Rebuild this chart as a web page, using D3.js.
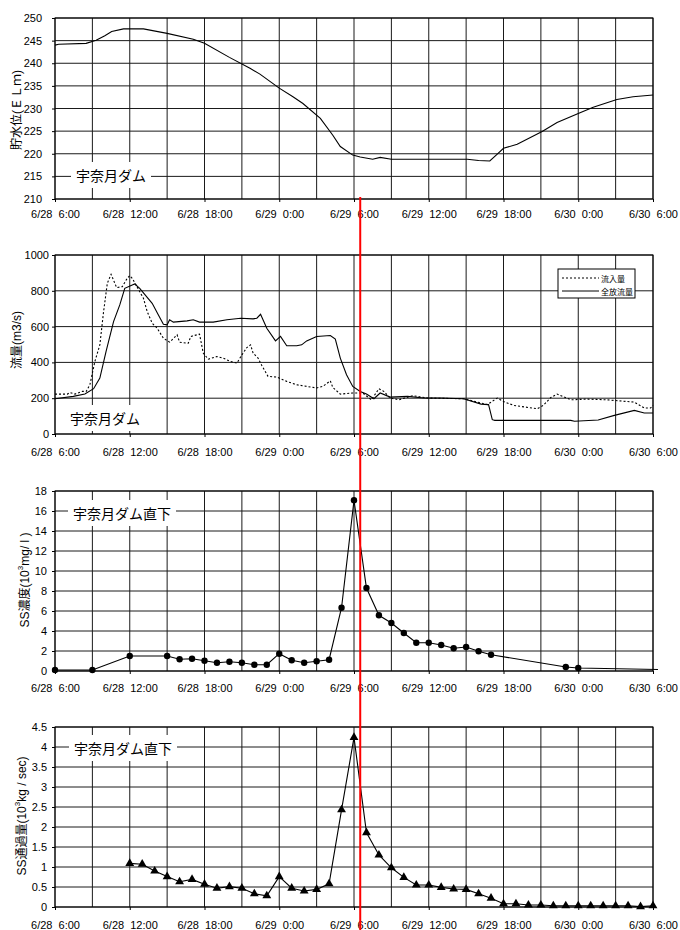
<!DOCTYPE html>
<html>
<head>
<meta charset="utf-8">
<script src="https://cdn.jsdelivr.net/npm/d3@7"></script>
<style>
  body { margin: 0; background: #fff; }
  svg { display: block; font-family: "Liberation Sans", Arial, "Noto Sans CJK JP", sans-serif; }
  .tick-x text { white-space: pre; }
</style>
</head>
<body>
<div id="chart"></div>
<script>
"use strict";

// 時間軸（6/28 6:00 からの経過時間）
var tickHours = [0, 6, 12, 18, 24, 30, 36, 42, 48];
var tickLabels = ["6/28  6:00", "6/28  12:00", "6/28  18:00", "6/29  0:00", "6/29  6:00",
                  "6/29  12:00", "6/29  18:00", "6/30  0:00", "6/30  6:00"];
var gridHours = [0, 3, 6, 9, 12, 15, 18, 21, 24, 27, 30, 33, 36, 39, 42, 45, 48];
var markHour = 24.5; // 赤線

// 貯水位
var levelHours = [0, 0.3, 2.5, 3.3, 4.0, 4.55, 5.5, 7.1, 9.0, 11.1, 12.0, 14.0, 15.65, 16.45, 18.0, 19.1,
                  19.9, 21.3, 22.3, 22.9, 23.9, 24.5, 25.5, 26.1, 27.0, 33.1, 34.0, 34.9, 35.5, 36.0,
                  37.1, 39.1, 40.3, 42.0, 43.2, 45.1, 46.4, 48.0];
var levelValues = [244.0, 244.2, 244.4, 245.1, 246.1, 247.0, 247.6, 247.6, 246.6, 245.3, 244.4, 241.3, 238.9, 237.6, 234.5, 232.6,
                   231.1, 227.8, 224.1, 221.6, 219.7, 219.3, 218.8, 219.2, 218.8, 218.8, 218.5, 218.4, 219.9, 221.2,
                   222.1, 224.9, 226.9, 228.9, 230.3, 232.0, 232.6, 233.0];

// 流量：全放流量
var outHours = [0, 1.47, 2.4, 3.1, 3.6, 4.1, 4.7, 5.2, 5.6, 6.2, 6.4, 6.8, 7.8, 8.3, 8.7, 9.0, 9.2, 9.5,
                10.6, 11.1, 11.6, 12.7, 13.8, 14.9, 15.9, 16.2, 16.5, 17.0, 17.7, 18.1, 18.6, 19.4, 19.8,
                20.2, 21.0, 22.1, 22.5, 22.9, 23.4, 23.9, 24.5, 25.0, 25.6, 26.1, 26.9, 28.3, 29.6, 30.9,
                32.8, 34.2, 34.8, 35.1, 35.3, 41.4, 41.7, 43.6, 44.9, 46.5, 47.3, 48.0];
var outValues = [197, 210, 223, 253, 312, 461, 628, 721, 814, 833, 838, 814, 730, 665, 613, 610, 638, 625,
                 632, 638, 625, 625, 638, 647, 643, 647, 669, 591, 520, 545, 493, 493, 498,
                 520, 545, 550, 530, 424, 331, 266, 238, 223, 197, 229, 206, 210, 201, 201,
                 197, 167, 164, 80, 76, 76, 71, 78, 104, 132, 117, 117];

// 流量：流入量
var inHours = [0, 1.0, 1.2, 1.6, 2.2, 2.5, 2.8, 3.2, 3.6, 3.9, 4.2, 4.5, 4.95, 5.4, 5.8, 6.0, 6.2, 6.5,
               7.1, 7.4, 7.8, 8.2, 8.7, 9.2, 9.8, 10.0, 10.7, 10.9, 11.6, 11.9, 12.3, 13.0, 13.5, 14.1,
               14.6, 15.0, 15.4, 15.7, 15.9, 16.3, 16.6, 17.1, 17.8, 18.6, 19.4, 20.2, 21.0, 21.5, 22.1,
               22.3, 22.9, 23.9, 24.7, 25.4, 26.0, 26.4, 26.9, 27.6, 28.7, 29.9, 32.8, 34.7, 35.5, 36.0,
               36.8, 38.3, 38.7, 39.2, 39.8, 40.3, 41.4, 42.7, 44.3, 46.5, 47.3, 47.8, 48.0];
var inValues = [223, 223, 232, 223, 238, 238, 275, 405, 498, 684, 842, 892, 818, 823, 870, 885, 870, 833,
                758, 684, 619, 591, 535, 513, 554, 513, 507, 545, 558, 452, 418, 433, 424, 405,
                396, 442, 483, 498, 452, 424, 383, 322, 318, 294, 275, 266, 257, 266, 297,
                260, 223, 229, 229, 191, 253, 238, 201, 191, 214, 201, 197, 164, 201, 182,
                160, 145, 141, 160, 204, 223, 191, 195, 191, 178, 145, 145, 160];

// SS濃度
var concHours = [0, 3, 6, 9, 10, 11, 12, 13, 14, 15, 16, 17, 18, 19, 20, 21, 22, 23, 24, 25, 26, 27, 28,
                 29, 30, 31, 32, 33, 34, 35, 41, 42, 48.4];
var concValues = [0.1, 0.1, 1.5, 1.5, 1.17, 1.23, 1.03, 0.83, 0.93, 0.83, 0.63, 0.63, 1.73, 1.07, 0.83, 0.97,
                  1.13, 6.33, 17.07, 8.3, 5.57, 4.8, 3.8, 2.83, 2.83, 2.6, 2.27, 2.4, 1.97, 1.63, 0.4, 0.3, 0.15];

// SS通過量
var fluxHours = [6, 7, 8, 9, 10, 11, 12, 13, 14, 15, 16, 17, 18, 19, 20, 21, 22, 23, 24, 25, 26, 27,
                 28, 29, 30, 31, 32, 33, 34, 35, 36, 37, 38, 39, 40, 41, 42, 43, 44, 45, 46, 47, 48];
var fluxValues = [1.09, 1.07, 0.9, 0.76, 0.63, 0.69, 0.57, 0.47, 0.51, 0.47, 0.33, 0.28, 0.76, 0.47, 0.4,
                  0.44, 0.58, 2.43, 4.24, 1.86, 1.3, 0.98, 0.74, 0.55, 0.55, 0.49, 0.45, 0.44, 0.33, 0.22,
                  0.08, 0.08, 0.05, 0.05, 0.03, 0.03, 0.03, 0.03, 0.03, 0.03, 0.03, 0.01, 0.03];

var width = 680, height = 930;
var left = 55, right = 653;

var svg = d3.select('#chart').append('svg')
            .attr('width', width)
            .attr('height', height);

svg.append('rect').attr('width', width).attr('height', height).attr('fill', '#fff');

var x = d3.scaleLinear().domain([0, 48]).range([left, right]);

function zip(hs, vs) {
  return hs.map(function(h, i) { return { h: h, v: vs[i] }; });
}

// パネル（枠・グリッド・軸）
function drawPanel(p) {
  var y = d3.scaleLinear().domain(p.domain).range([p.bottom, p.top]);
  var g = svg.append('g');

  g.append('g').selectAll('line')
    .data(p.ticks)
  .enter().append('line')
    .attr('x1', left).attr('x2', right)
    .attr('y1', function(d) { return y(d); })
    .attr('y2', function(d) { return y(d); })
    .attr('stroke', '#1a1a1a');

  g.append('g').selectAll('line')
    .data(gridHours)
  .enter().append('line')
    .attr('x1', function(d) { return x(d); })
    .attr('x2', function(d) { return x(d); })
    .attr('y1', p.top).attr('y2', p.bottom)
    .attr('stroke', '#1a1a1a');

  g.append('rect')
    .attr('x', left).attr('y', p.top)
    .attr('width', right - left).attr('height', p.bottom - p.top)
    .attr('fill', 'none').attr('stroke', '#000');

  var yAxis = d3.axisLeft(y)
                .tickValues(p.ticks)
                .tickSizeInner(3)
                .tickSizeOuter(0)
                .tickPadding(p.yPad)
                .tickFormat(function(d) { return String(d); });
  var gy = g.append('g').attr('transform', 'translate(' + left + ',0)').call(yAxis);
  gy.select('.domain').remove();
  gy.selectAll('text').attr('font-size', 11).attr('font-family', null).attr('fill', '#000');

  var xAxis = d3.axisBottom(x)
                .tickValues(tickHours)
                .tickSizeInner(3)
                .tickSizeOuter(0)
                .tickFormat(function(d, i) { return tickLabels[i]; });
  var gx = g.append('g').attr('class', 'tick-x')
            .attr('transform', 'translate(0,' + p.bottom + ')').call(xAxis);
  gx.select('.domain').remove();
  gx.selectAll('text')
    .attr('font-size', 11).attr('font-family', null).attr('fill', '#000')
    .attr('y', p.labelDy).attr('dy', 0);

  // 縦軸タイトル
  var t = g.append('text')
    .attr('transform', 'translate(' + p.titleX + ',' + p.titleY + ') rotate(-90)')
    .attr('text-anchor', 'middle')
    .attr('font-size', 12)
    .attr('dominant-baseline', 'central');
  p.title.forEach(function(part) {
    var ts = t.append('tspan').text(part.text);
    if (part.sup) ts.attr('font-size', 8).attr('dy', -5);
    if (part.after) ts.attr('dy', 5);
  });

  return { g: g, y: y };
}

// ダム名ラベル
function drawLabel(p, text) {
  var lg = svg.append('g');
  var box = lg.append('rect').attr('fill', '#fff');
  var t = lg.append('text')
    .attr('x', p.labelX).attr('y', p.labelY)
    .attr('dominant-baseline', 'central')
    .attr('font-family', '"Noto Sans CJK JP", sans-serif')
    .attr('font-size', 14)
    .text(text);
  var bb = t.node().getBBox();
  box.attr('x', bb.x - 5).attr('y', p.labelY - 13)
     .attr('width', bb.width + 10).attr('height', 26);
}

var p1 = { top: 18, bottom: 199, domain: [210, 250], ticks: [210, 215, 220, 225, 230, 235, 240, 245, 250],
           yPad: 10, labelDy: 19, titleX: 17, titleY: 110, labelX: 76, labelY: 175,
           title: [{ text: '貯水位(ＥＬｍ)' }] };
var p2 = { top: 255, bottom: 434, domain: [0, 1000], ticks: [0, 200, 400, 600, 800, 1000],
           yPad: 3, labelDy: 22, titleX: 17, titleY: 340, labelX: 70, labelY: 418,
           title: [{ text: '流量(m3/s)' }] };
var p3 = { top: 491, bottom: 671, domain: [0, 18], ticks: [0, 2, 4, 6, 8, 10, 12, 14, 16, 18],
           yPad: 5, labelDy: 21, titleX: 25, titleY: 580, labelX: 73, labelY: 513,
           title: [{ text: 'SS濃度(10' }, { text: '3', sup: true }, { text: 'mg/ l )', after: true }] };
var p4 = { top: 727, bottom: 907, domain: [0, 4.5], ticks: [0, 0.5, 1, 1.5, 2, 2.5, 3, 3.5, 4, 4.5],
           yPad: 5, labelDy: 22, titleX: 22, titleY: 816, labelX: 74, labelY: 748,
           title: [{ text: 'SS通過量(10' }, { text: '3', sup: true }, { text: 'kg / sec)', after: true }] };

var line = function(y) {
  return d3.line()
    .x(function(d) { return x(d.h); })
    .y(function(d) { return y(d.v); });
};

// 1. 貯水位
var a1 = drawPanel(p1);
drawLabel(p1, '宇奈月ダム');
svg.append('path')
  .attr('d', line(a1.y)(zip(levelHours, levelValues)))
  .attr('fill', 'none').attr('stroke', '#000').attr('stroke-width', 1.1);

// 2. 流量
var a2 = drawPanel(p2);
drawLabel(p2, '宇奈月ダム');
svg.append('path')
  .attr('d', line(a2.y)(zip(inHours, inValues)))
  .attr('fill', 'none').attr('stroke', '#000').attr('stroke-width', 1.1)
  .attr('stroke-dasharray', '2,2');
svg.append('path')
  .attr('d', line(a2.y)(zip(outHours, outValues)))
  .attr('fill', 'none').attr('stroke', '#000').attr('stroke-width', 1.1);

var legend = svg.append('g').attr('transform', 'translate(558,269)');
legend.append('rect').attr('width', 77).attr('height', 29)
  .attr('fill', '#fff').attr('stroke', '#000');
[{ name: '流入量', dash: '2,2', y: 9 }, { name: '全放流量', dash: null, y: 22 }].forEach(function(d) {
  legend.append('line')
    .attr('x1', 4).attr('x2', 41).attr('y1', d.y).attr('y2', d.y)
    .attr('stroke', '#000').attr('stroke-dasharray', d.dash);
  legend.append('text')
    .attr('x', 43).attr('y', d.y)
    .attr('dominant-baseline', 'central')
    .attr('font-family', '"Noto Sans CJK JP", sans-serif')
    .attr('font-size', 8)
    .text(d.name);
});

// 3. SS濃度
var a3 = drawPanel(p3);
drawLabel(p3, '宇奈月ダム直下');
var concData = zip(concHours, concValues);
svg.append('path')
  .attr('d', line(a3.y)(concData))
  .attr('fill', 'none').attr('stroke', '#000').attr('stroke-width', 1.1);
svg.append('g').selectAll('circle')
  .data(concData.filter(function(d) { return d.h <= 48; }))
.enter().append('circle')
  .attr('cx', function(d) { return x(d.h); })
  .attr('cy', function(d) { return a3.y(d.v); })
  .attr('r', 3.2)
  .attr('fill', '#000');

// 4. SS通過量
var a4 = drawPanel(p4);
drawLabel(p4, '宇奈月ダム直下');
var fluxData = zip(fluxHours, fluxValues);
svg.append('path')
  .attr('d', line(a4.y)(fluxData))
  .attr('fill', 'none').attr('stroke', '#000').attr('stroke-width', 1.1);
var tri = d3.symbol().type(d3.symbolTriangle).size(34);
svg.append('g').selectAll('path')
  .data(fluxData)
.enter().append('path')
  .attr('d', tri)
  .attr('transform', function(d) { return 'translate(' + x(d.h) + ',' + a4.y(d.v) + ')'; })
  .attr('fill', '#000');

// 赤線
svg.append('line')
  .attr('x1', x(markHour)).attr('x2', x(markHour))
  .attr('y1', p1.bottom - 2).attr('y2', height)
  .attr('stroke', '#ff0000').attr('stroke-width', 2);
</script>
</body>
</html>
